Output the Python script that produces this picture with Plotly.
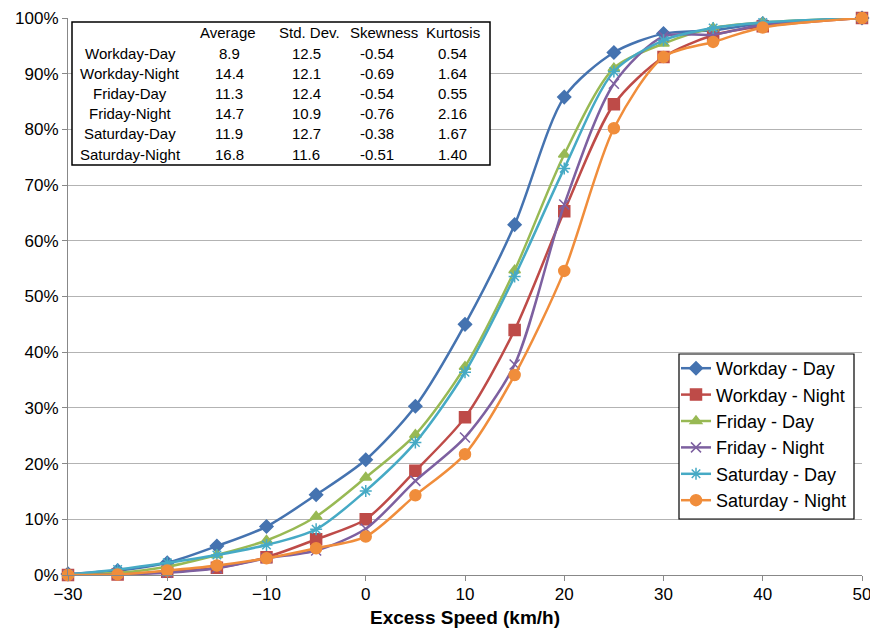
import plotly.graph_objects as go

x_vals = [-30, -25, -20, -15, -10, -5, 0, 5, 10, 15, 20, 25, 30, 35, 40, 50]

workday_day = [0.2, 0.8, 2.2, 5.2, 8.7, 14.4, 20.7, 30.3, 45.0, 62.9, 85.8, 93.8, 97.2, 97.8, 99.0, 100]
workday_night = [0.0, 0.1, 0.6, 1.3, 3.2, 6.4, 10.0, 18.7, 28.3, 44.0, 65.3, 84.5, 93.0, 96.9, 98.5, 100]
friday_day = [0.1, 0.4, 1.5, 3.6, 6.2, 10.5, 17.5, 25.2, 37.4, 54.7, 75.5, 91.0, 95.4, 98.2, 99.2, 100]
friday_night = [0.0, 0.1, 0.4, 1.2, 3.0, 4.4, 8.3, 16.9, 24.7, 37.8, 66.5, 88.2, 96.7, 97.0, 98.8, 100]
saturday_day = [0.1, 1.0, 2.2, 3.6, 5.4, 8.2, 15.1, 23.8, 36.4, 53.6, 73.0, 90.4, 96.0, 98.2, 99.2, 100]
saturday_night = [0.0, 0.1, 0.8, 1.7, 3.0, 4.8, 6.9, 14.3, 21.7, 35.9, 54.6, 80.2, 93.0, 95.7, 98.3, 100]

series_names = ["Workday - Day", "Workday - Night", "Friday - Day",
                "Friday - Night", "Saturday - Day", "Saturday - Night"]
series_values = [workday_day, workday_night, friday_day, friday_night, saturday_day, saturday_night]
colors = ["#4573B0", "#BE4B48", "#98B954", "#7D60A0", "#46AAC5", "#F08D3B"]
symbols = ["diamond", "square", "triangle-up", "x-thin-open", "asterisk-open", "circle"]
sizes = [10, 11, 10, 10, 10, 11]

table_cols = ["Average", "Std. Dev.", "Skewness", "Kurtosis"]
table_rows = ["Workday-Day", "Workday-Night", "Friday-Day", "Friday-Night", "Saturday-Day", "Saturday-Night"]
table_data = [
    ["8.9", "12.5", "-0.54", "0.54"],
    ["14.4", "12.1", "-0.69", "1.64"],
    ["11.3", "12.4", "-0.54", "0.55"],
    ["14.7", "10.9", "-0.76", "2.16"],
    ["11.9", "12.7", "-0.38", "1.67"],
    ["16.8", "11.6", "-0.51", "1.40"],
]

fig = go.Figure()
for name, vals, c, s, sz in zip(series_names, series_values, colors, symbols, sizes):
    fig.add_trace(go.Scatter(
        x=x_vals, y=vals, name=name, mode="lines+markers",
        line=dict(color=c, width=2.5, shape="spline", smoothing=0.8),
        marker=dict(symbol=s, size=sz, color=c, line=dict(color=c, width=1.5)),
        cliponaxis=False,
    ))

FONT = "Liberation Sans, Arial, sans-serif"

# page body has an 8px margin; compensate so the plot lands where the reference has it
W, H = 870, 620
ml, mt = 60, 10
pw, ph = 794, 557
mr = W - ml - pw
mb = H - mt - ph
PX0, PY1 = 68, 575  # screen px of plot-area left and bottom

def px_x(p):
    return (p - PX0) / pw

def px_y(p):
    return (PY1 - p) / ph

annotations = []
hdr_x = [228, 309, 384, 453]
val_x = [229, 306, 377, 452]
row_y = [53, 73, 93.5, 114, 134, 154]
for hx, h in zip(hdr_x, table_cols):
    annotations.append(dict(x=px_x(hx), y=px_y(33), xref="paper", yref="paper",
                            text=h, showarrow=False, xanchor="center", yanchor="middle",
                            font=dict(family=FONT, size=15, color="black")))
for ry, rname, rvals in zip(row_y, table_rows, table_data):
    annotations.append(dict(x=px_x(130), y=px_y(ry), xref="paper", yref="paper",
                            text=rname, showarrow=False, xanchor="center", yanchor="middle",
                            font=dict(family=FONT, size=15, color="black")))
    for vx, v in zip(val_x, rvals):
        annotations.append(dict(x=px_x(vx), y=px_y(ry), xref="paper", yref="paper",
                                text=v, showarrow=False, xanchor="center", yanchor="middle",
                                font=dict(family=FONT, size=15, color="black")))

shapes = [
    dict(type="rect", xref="paper", yref="paper",
         x0=px_x(72), x1=px_x(490), y0=px_y(165), y1=px_y(22),
         line=dict(color="black", width=1.5), fillcolor="white", layer="above"),
    dict(type="rect", xref="paper", yref="paper",
         x0=px_x(679), x1=px_x(854), y0=px_y(519), y1=px_y(354),
         line=dict(color="black", width=1.2), fillcolor="white", layer="above"),
]

fig.update_layout(
    width=W, height=H,
    margin=dict(l=ml, r=mr, t=mt, b=mb, autoexpand=False),
    paper_bgcolor="white", plot_bgcolor="white",
    font=dict(family=FONT, size=17, color="black"),
    showlegend=True,
    legend=dict(x=px_x(676), y=px_y(350), xanchor="left", yanchor="top",
                bgcolor="rgba(0,0,0,0)", borderwidth=0,
                font=dict(family=FONT, size=18, color="black"),
                tracegroupgap=0, itemwidth=30),
    xaxis=dict(range=[-30, 50], dtick=10, tick0=-30, showgrid=False, automargin=False,
               showline=True, linecolor="#888888", linewidth=1,
               ticks="outside", ticklen=5, tickcolor="#888888", ticklabelstandoff=-1,
               tickfont=dict(family=FONT, size=17), zeroline=False,
               title=dict(text="<b>Excess Speed (km/h)</b>", font=dict(family=FONT, size=19), standoff=13)),
    yaxis=dict(range=[0, 100], dtick=10, ticksuffix="%", showgrid=True, automargin=False,
               gridcolor="#B3B3B3", gridwidth=1.3,
               showline=True, linecolor="#888888", linewidth=1,
               ticks="outside", ticklen=5, tickcolor="#888888",
               tickfont=dict(family=FONT, size=17), zeroline=False),
    annotations=annotations,
    shapes=shapes,
)

fig.write_html("out.html")
